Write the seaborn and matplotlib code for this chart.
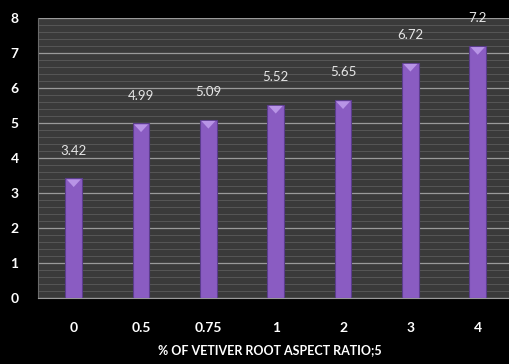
import matplotlib
matplotlib.use("Agg")
import matplotlib.pyplot as plt
import seaborn as sns
import pandas as pd
import numpy as np

categories = ["0", "0.5", "0.75", "1", "2", "3", "4"]
values = [3.42, 4.99, 5.09, 5.52, 5.65, 6.72, 7.2]
value_labels = ["3.42", "4.99", "5.09", "5.52", "5.65", "6.72", "7.2"]
xlabel = "% OF VETIVER ROOT ASPECT RATIO;5"

sns.set_style("dark")
plt.rcParams['font.family'] = ['Lato', 'DejaVu Sans']

df = pd.DataFrame({"cat": categories, "val": values})

fig = plt.figure(figsize=(5.09, 3.64), dpi=100, facecolor="black")
ax = fig.add_axes([0.0747, 0.1813, 0.93, 0.7692])
ax.set_facecolor("#3a3a3a")

sns.barplot(data=df, x="cat", y="val", ax=ax, color="#8a5cc2", width=0.25,
            edgecolor="#5b3d8c", linewidth=0.8, saturation=1, zorder=3)

ax.set_ylim(0, 8)
ax.set_xlim(-0.53, 6.5)
ax.set_yticks(np.arange(0, 9, 1))
ax.set_yticks(np.arange(0, 8.01, 0.2), minor=True)
ax.grid(False)
ax.grid(which="minor", axis="y", color="#565656", linewidth=0.7, zorder=0)
ax.grid(which="major", axis="y", color="#9a9a9a", linewidth=0.9, zorder=1)
ax.set_axisbelow(True)

for s in ["top", "right"]:
    ax.spines[s].set_visible(False)
ax.spines["left"].set_color("#6a6a6a")
ax.spines["bottom"].set_color("#9a9a9a")

ax.tick_params(axis="both", which="both", length=0, colors="white", labelsize=10)
ax.tick_params(axis="x", pad=17)
ax.tick_params(axis="y", pad=14)
for t in ax.get_xticklabels() + ax.get_yticklabels():
    t.set_fontweight("bold")

# lighter cap on bar tops
for p in ax.patches:
    x0 = p.get_x(); w = p.get_width(); h = p.get_height()
    ax.fill([x0 + 0.02, x0 + w - 0.02, x0 + w / 2], [h - 0.03, h - 0.03, h - 0.25],
            color="#b894e6", zorder=4, linewidth=0)

for i, (v, lab) in enumerate(zip(values, value_labels)):
    ax.annotate(lab, (i, v), xytext=(0, 20), textcoords="offset points",
                ha="center", va="center", color="#e6e6e6", fontsize=9.5)

ax.set_xlabel(xlabel, color="white", fontsize=9, fontweight="bold")
ax.xaxis.set_label_coords(0.49, -0.165)
ax.set_ylabel("")

fig.savefig("out.png", dpi=100, facecolor="black")
